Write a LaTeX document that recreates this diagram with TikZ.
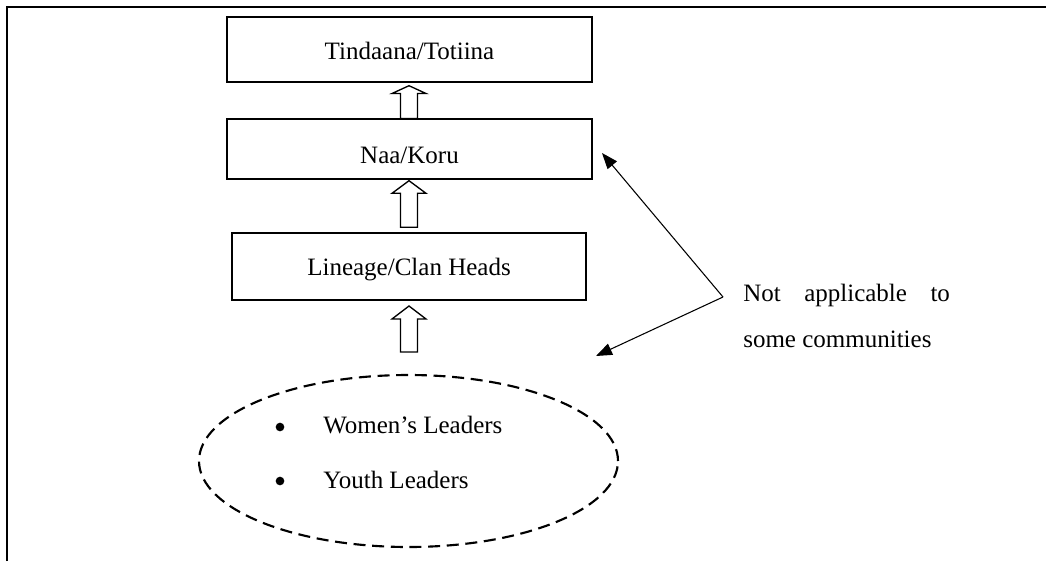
\documentclass[tikz,border=0pt]{standalone}
\usepackage{fontspec}
\setmainfont{Liberation Serif}
\usetikzlibrary{arrows.meta,shapes.geometric}
\newcommand\hollowup[4]{% center x, tip y, head base y, bottom y
  \draw[blockarrow] (#1-8.5,#4) -- (#1-8.5,#3) -- (#1-17,#3) -- (#1,#2) -- (#1+17,#3) -- (#1+8.5,#3) -- (#1+8.5,#4) -- cycle;}
\begin{document}
\begin{tikzpicture}[x=0.75pt,y=-0.75pt,
  every node/.style={font=\fontsize{18.75}{22}\selectfont, inner sep=0pt},
  box/.style={draw, line width=1pt, rectangle},
  lbl/.style={anchor=base},
  blockarrow/.style={draw, line width=1pt, fill=white, line join=miter},
  conn/.style={line width=0.8pt, -{Triangle[length=12pt,width=9pt]}},
  dot/.style={circle, fill, minimum size=6.5pt},
  frame/.style={line width=1.2pt}]
\useasboundingbox (0,0) rectangle (1046,561);
% frame (top and left)
\draw[frame] (7,561) -- (7,7) -- (1046,7);
% boxes
\node[box, minimum width=273.75pt, minimum height=48.75pt] (b1) at (409.5,49.5) {};
\node[lbl] (t1) at (409.5,59) {Tindaana/Totiina};
\node[box, minimum width=273.75pt, minimum height=45pt] (b2) at (409.5,149) {};
\node[lbl] (t2) at (409.5,163) {Naa/Koru};
\node[box, minimum width=265.5pt, minimum height=50.25pt] (b3) at (409,266.5) {};
\node[lbl] (t3) at (409,275) {Lineage/Clan Heads};
% block arrows
\hollowup{409}{85.7}{93.5}{118.5}
\hollowup{409}{180.7}{193.3}{227.3}
\hollowup{409}{306}{319}{352}
% ellipse group
\node[draw, ellipse, dash pattern=on 9pt off 5pt, line width=1.6pt, minimum width=314.25pt, minimum height=129pt] (grp) at (408.5,461) {};
\node[dot] (bul1) at (280,427) {};
\node[anchor=base west] (w) at (323,433) {Women’s Leaders};
\node[dot] (bul2) at (280,481) {};
\node[anchor=base west] (y) at (323,488) {Youth Leaders};
% side note
\coordinate (v) at (723,297);
\coordinate (p1) at (602,153);
\coordinate (p2) at (596,356);
\draw[conn] (v) -- (p1);
\draw[conn] (v) -- (p2);
\node[anchor=base west] (n1) at (743,301) {\makebox[155pt][s]{Not applicable to}};
\node[anchor=base west] (n2) at (743,347) {some communities};
\end{tikzpicture}
\end{document}
